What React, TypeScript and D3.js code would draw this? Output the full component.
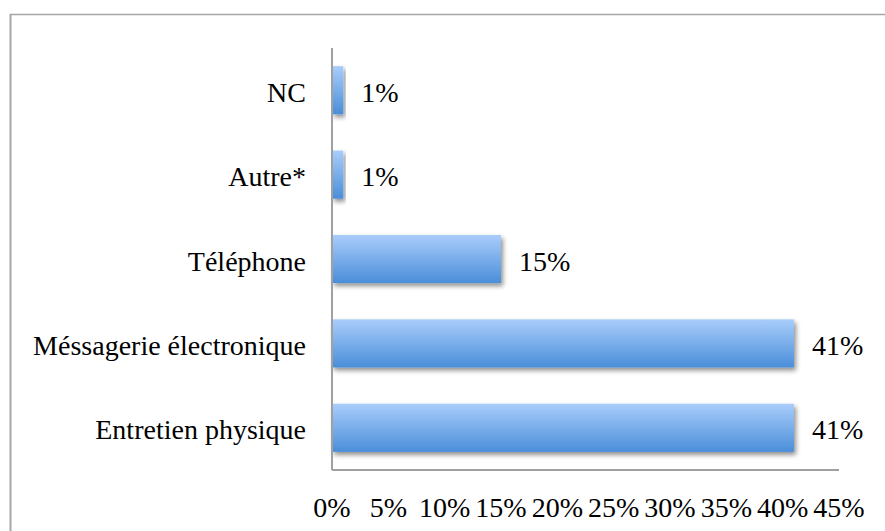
import React from "react";
import * as d3 from "d3";

const categories = ["NC", "Autre*", "Téléphone", "Méssagerie électronique", "Entretien physique"];
const values = [1, 1, 15, 41, 41];
const valueLabels = ["1%", "1%", "15%", "41%", "41%"];
const xTicks = [0, 5, 10, 15, 20, 25, 30, 35, 40, 45];

const W = 885;
const H = 531;
const FONT = "'Liberation Serif', serif";
const FS = 28;

export default function App() {
  const x = d3.scaleLinear().domain([0, 45]).range([332, 839]);
  const y = d3
    .scaleBand<string>()
    .domain(categories)
    .range([48, 470])
    .paddingInner(0.43)
    .paddingOuter(0.215);
  const bw = y.bandwidth();
  return (
    <svg
      width={W}
      height={H}
      style={{ position: "absolute", left: 0, top: 0, background: "#fff" }}
    >
      <defs>
        <linearGradient id="barGrad" x1="0" y1="0" x2="0" y2="1">
          <stop offset="0" stopColor="#a9cdfb" />
          <stop offset="1" stopColor="#4a8ed9" />
        </linearGradient>
        <filter id="shadow" x="-10%" y="-20%" width="130%" height="160%">
          <feGaussianBlur in="SourceAlpha" stdDeviation="2.5" />
          <feOffset dx="2" dy="3" result="b" />
          <feComponentTransfer>
            <feFuncA type="linear" slope="0.45" />
          </feComponentTransfer>
          <feMerge>
            <feMergeNode />
            <feMergeNode in="SourceGraphic" />
          </feMerge>
        </filter>
      </defs>
      {/* outer frame */}
      <line x1={10.5} y1={14} x2={10.5} y2={H} stroke="#a6a6a6" strokeWidth={2} />
      <line x1={10} y1={14.5} x2={W} y2={14.5} stroke="#a6a6a6" strokeWidth={1.5} />

      {categories.map((c, i) => (
        <g key={c}>
          <rect
            x={x(0)}
            y={y(c)!}
            width={x(values[i]) - x(0)}
            height={bw}
            fill="url(#barGrad)"
            filter="url(#shadow)"
          />
          <text
            x={306}
            y={y(c)! + bw / 2 + 2}
            textAnchor="end"
            dominantBaseline="central"
            fontFamily={FONT}
            fontSize={FS}
            fill="#000"
          >
            {c}
          </text>
          <text
            x={x(values[i]) + 18}
            y={y(c)! + bw / 2 + 2}
            textAnchor="start"
            dominantBaseline="central"
            fontFamily={FONT}
            fontSize={FS}
            fill="#000"
          >
            {valueLabels[i]}
          </text>
        </g>
      ))}

      {/* axes */}
      <line x1={x(0)} y1={48} x2={x(0)} y2={470} stroke="#a0a0a0" strokeWidth={2} />
      <line x1={x(0)} y1={470} x2={x(45)} y2={470} stroke="#a0a0a0" strokeWidth={2} />
      {xTicks.map((t) => (
        <text
          key={t}
          x={x(t)}
          y={507}
          textAnchor="middle"
          dominantBaseline="central"
          fontFamily={FONT}
          fontSize={FS}
          fill="#000"
        >
          {t + "%"}
        </text>
      ))}
    </svg>
  );
}
